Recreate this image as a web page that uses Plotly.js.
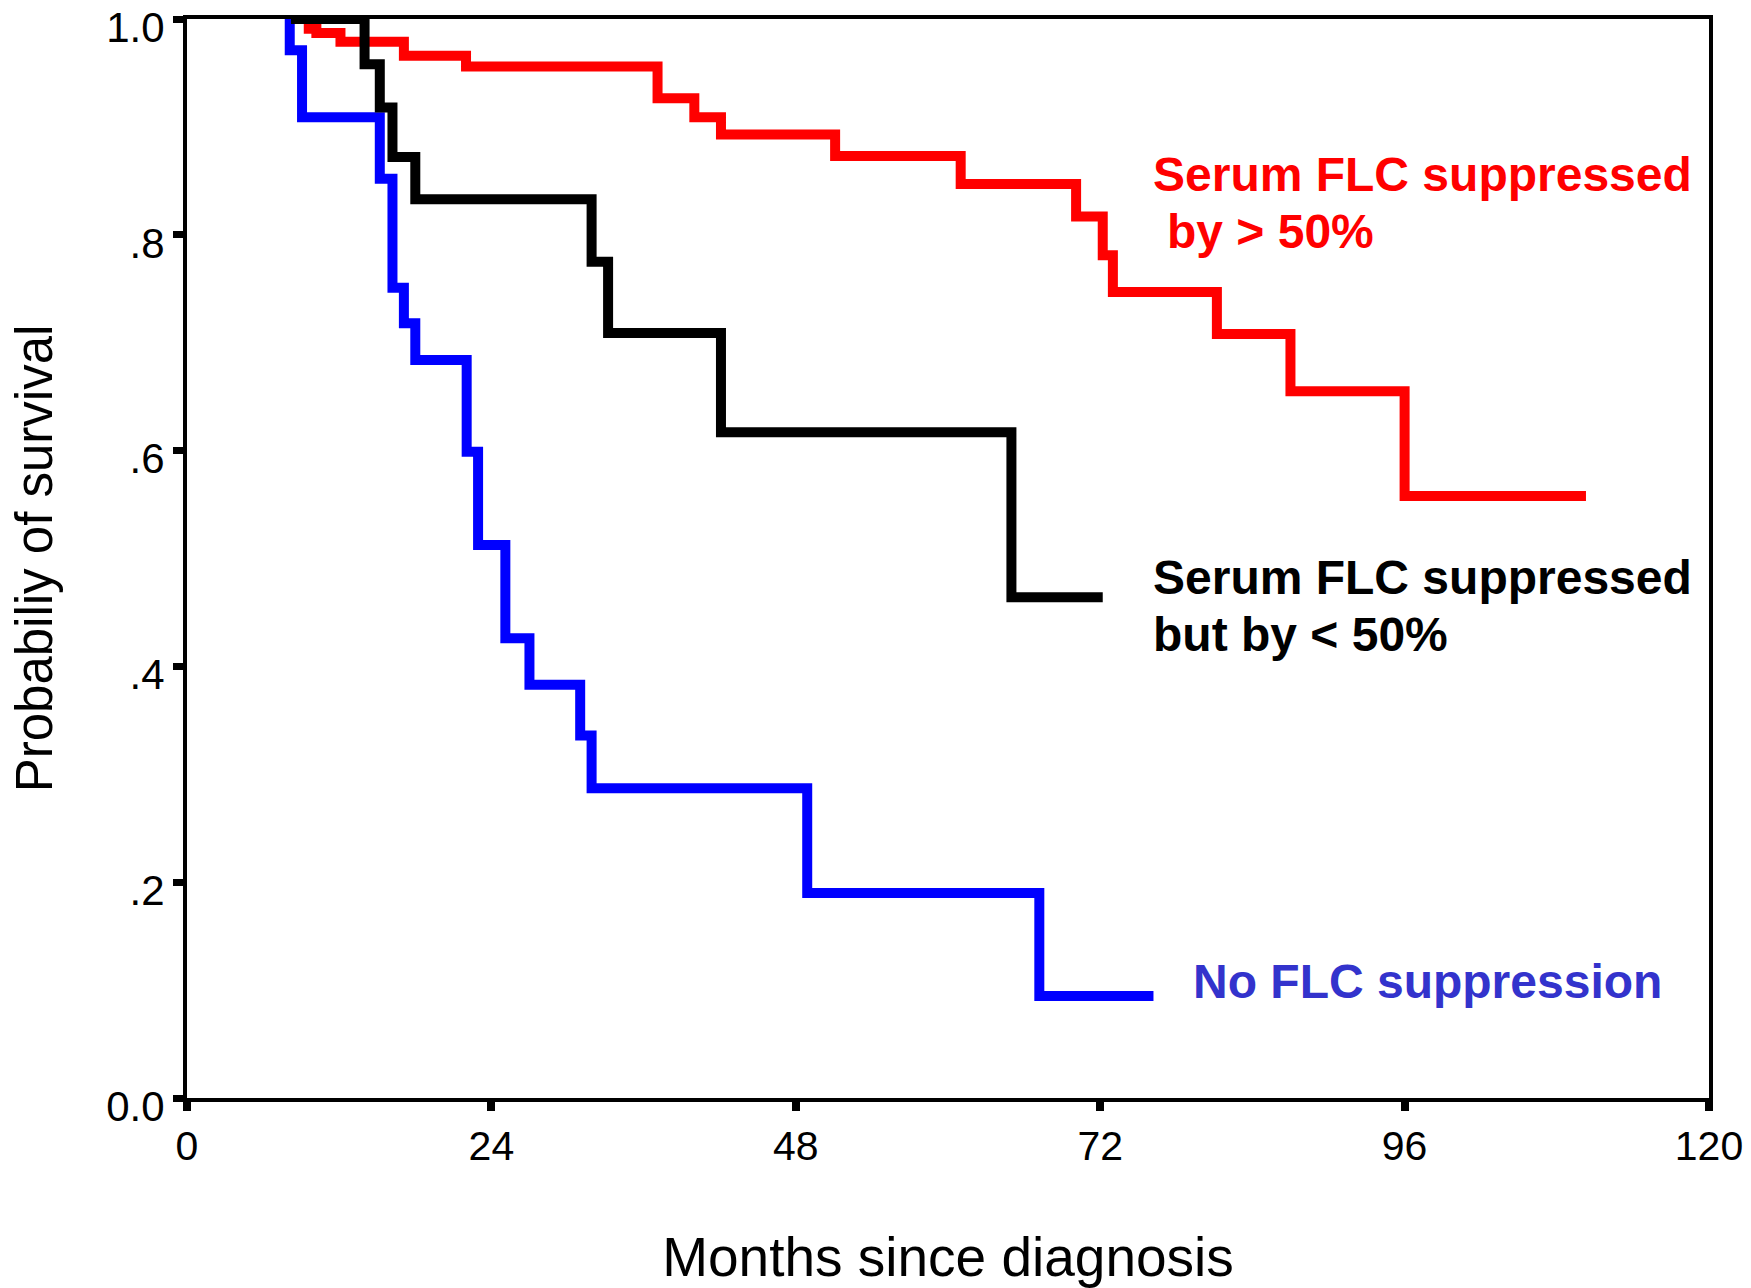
<!DOCTYPE html>
<html>
<head>
<meta charset="utf-8">
<script src="https://cdn.plot.ly/plotly-3.0.1.min.js"></script>
<style>
  html, body { margin: 0; padding: 0; background: #ffffff; }
  #chart { width: 1751px; height: 1288px; }
</style>
</head>
<body>
<div id="chart"></div>
<script>
// ---- Data ----
// Serum FLC suppressed by > 50%
const redMonths   = [8.2, 9.6, 10.2, 12.1, 17.1, 22.0, 37.1, 40.0, 42.1, 51.1, 61.0, 70.1, 72.2, 73.0, 81.2, 87.0, 96.0, 110.3];
const redSurv     = [1.0, 0.991, 0.987, 0.979, 0.966, 0.956, 0.9265, 0.909, 0.893, 0.873, 0.847, 0.817, 0.781, 0.747, 0.708, 0.655, 0.558, 0.558];
// Serum FLC suppressed but by < 50%
const blackMonths = [8.2, 14.0, 15.2, 16.2, 18.0, 31.9, 33.2, 42.1, 65.0, 72.2];
const blackSurv   = [1.0, 0.958, 0.918, 0.872, 0.833, 0.775, 0.709, 0.617, 0.464, 0.464];
// No FLC suppression
const blueMonths  = [8.1, 8.1, 9.07, 15.2, 16.2, 17.1, 18.0, 22.05, 22.95, 25.1, 27.0, 31.0, 31.9, 48.9, 67.2, 76.2];
const blueSurv    = [1.0, 0.971, 0.909, 0.852, 0.751, 0.718, 0.684, 0.599, 0.5125, 0.426, 0.383, 0.336, 0.287, 0.190, 0.0945, 0.0945];

const xTickVals  = [0, 24, 48, 72, 96, 120];
const xTickText  = ["0", "24", "48", "72", "96", "120"];
const yTickVals  = [0, 0.2, 0.4, 0.6, 0.8, 1.0];
const yTickText  = ["0.0", ".2", ".4", ".6", ".8", "1.0"];

const seriesLabels = ["Serum FLC suppressed", "by > 50%", "Serum FLC suppressed", "but by < 50%", "No FLC suppression"];

const FONT = "Liberation Sans, Arial, Helvetica, sans-serif";

function kmTrace(x, y, color, name) {
  return {
    x: x, y: y, type: "scatter", mode: "lines", name: name,
    line: { shape: "hv", color: color, width: 10 },
    hoverinfo: "x+y"
  };
}

const traces = [
  kmTrace(redMonths, redSurv, "#FF0000", "Serum FLC suppressed by > 50%"),
  kmTrace(blueMonths, blueSurv, "#0000FF", "No FLC suppression"),
  kmTrace(blackMonths, blackSurv, "#000000", "Serum FLC suppressed but by < 50%")
];

function label(text, x, y, color) {
  return {
    text: text, x: x, y: y, xref: "x", yref: "y",
    xanchor: "left", yanchor: "middle", showarrow: false,
    font: { family: FONT, size: 48, color: color, weight: "bold" },
    borderpad: 0
  };
}

const layout = {
  width: 1751, height: 1288,
  margin: { l: 187, r: 42, t: 19, b: 190, pad: 0 },
  paper_bgcolor: "#ffffff", plot_bgcolor: "#ffffff",
  showlegend: false,
  xaxis: {
    range: [0, 120], tickvals: xTickVals, ticktext: xTickText,
    showgrid: false, zeroline: false,
    showline: true, linecolor: "#000", linewidth: 4, mirror: true,
    ticks: "outside", ticklen: 9, tickwidth: 8, tickcolor: "#000",
    tickfont: { family: FONT, size: 41, color: "#000" },
    title: { text: "Months since diagnosis", font: { family: FONT, size: 55, color: "#000" }, standoff: 91 }
  },
  yaxis: {
    range: [0, 1], tickvals: yTickVals, ticktext: yTickText,
    showgrid: false, zeroline: false,
    showline: true, linecolor: "#000", linewidth: 4, mirror: true,
    ticks: "outside", ticklen: 10, tickwidth: 7, tickcolor: "#000",
    ticklabelstandoff: 0, ticklabeloverflow: "allow", ticklabelshift: 8,
    tickfont: { family: FONT, size: 42, color: "#000" },
    title: { text: "Probabiliy of survival", font: { family: FONT, size: 51, color: "#000" }, standoff: 38 }
  },
  annotations: [
    label(seriesLabels[0], 76.07, 0.8563, "#FF0000"),
    label(seriesLabels[1], 77.17, 0.8031, "#FF0000"),
    label(seriesLabels[2], 76.07, 0.4824, "#000000"),
    label(seriesLabels[3], 76.07, 0.4300, "#000000"),
    label(seriesLabels[4], 79.25, 0.1080, "#3333CC")
  ]
};

Plotly.newPlot("chart", traces, layout, { staticPlot: true, displayModeBar: false });
</script>
</body>
</html>
